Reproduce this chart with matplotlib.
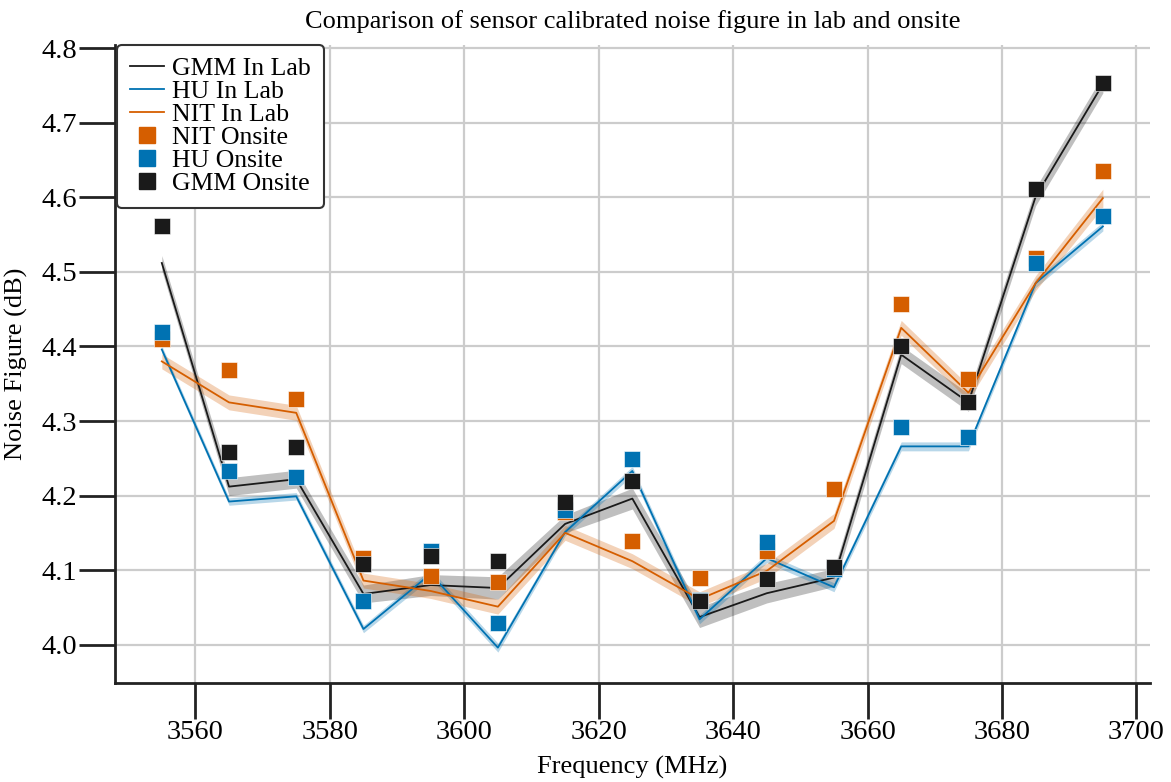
import numpy as np
import matplotlib
matplotlib.use("Agg")
import matplotlib.pyplot as plt
import matplotlib.lines as mlines

plt.rcParams['font.family'] = ['Liberation Serif', 'DejaVu Serif']
plt.rcParams['mathtext.fontset'] = 'stix'

# frequency points (MHz)
freq = [3555, 3565, 3575, 3585, 3595, 3605, 3615, 3625, 3635, 3645, 3655, 3665, 3675, 3685, 3695]

# lab calibration (mean) and spread
gmm_lab = [4.512, 4.212, 4.222, 4.068, 4.080, 4.076, 4.162, 4.196, 4.037, 4.069, 4.090, 4.389, 4.325, 4.601, 4.752]
gmm_lab_sd = [0.010, 0.012, 0.012, 0.012, 0.014, 0.015, 0.012, 0.014, 0.014, 0.013, 0.012, 0.012, 0.012, 0.012, 0.012]
hu_lab = [4.396, 4.192, 4.199, 4.021, 4.095, 3.996, 4.151, 4.233, 4.034, 4.116, 4.077, 4.266, 4.266, 4.485, 4.561]
hu_lab_sd = [0.005, 0.005, 0.005, 0.005, 0.006, 0.006, 0.005, 0.006, 0.006, 0.006, 0.006, 0.006, 0.006, 0.006, 0.006]
nit_lab = [4.380, 4.325, 4.311, 4.086, 4.072, 4.051, 4.150, 4.112, 4.061, 4.099, 4.166, 4.425, 4.338, 4.485, 4.599]
nit_lab_sd = [0.010, 0.010, 0.010, 0.010, 0.010, 0.010, 0.010, 0.010, 0.010, 0.010, 0.010, 0.010, 0.010, 0.010, 0.012]

# onsite measurements
nit_onsite = [4.410, 4.369, 4.330, 4.116, 4.092, 4.084, 4.178, 4.139, 4.090, 4.126, 4.209, 4.457, 4.357, 4.519, 4.635]
hu_onsite = [4.419, 4.233, 4.225, 4.059, 4.126, 4.029, 4.180, 4.249, 4.060, 4.138, 4.102, 4.292, 4.278, 4.512, 4.575]
gmm_onsite = [4.561, 4.258, 4.265, 4.108, 4.119, 4.112, 4.191, 4.220, 4.059, 4.088, 4.104, 4.400, 4.326, 4.611, 4.753]

c_black = '#1a1a1a'
c_blue = '#0072B2'
c_orange = '#D55E00'

fig = plt.figure(figsize=(11.71, 7.82), dpi=100)
ax = fig.add_axes([0.098, 0.127, 0.884, 0.816])

x = np.array(freq)
for mean, sd, col, lw in [(gmm_lab, gmm_lab_sd, c_black, 1.3),
                          (hu_lab, hu_lab_sd, c_blue, 1.3),
                          (nit_lab, nit_lab_sd, c_orange, 1.3)]:
    m = np.array(mean)
    s = np.array(sd)
    ax.fill_between(x, m - s, m + s, color=col, alpha=0.28, linewidth=0, zorder=2)
    ax.plot(x, m, color=col, linewidth=lw, zorder=3)

ms = 11
ax.plot(x, nit_onsite, linestyle='None', marker='s', ms=ms, color=c_orange, mec='white', mew=0.4, zorder=4)
ax.plot(x, hu_onsite, linestyle='None', marker='s', ms=ms, color=c_blue, mec='white', mew=0.4, zorder=5)
ax.plot(x, gmm_onsite, linestyle='None', marker='s', ms=ms, color=c_black, mec='white', mew=0.4, zorder=6)

### Layout:
ax.set_xlim(3548, 3702)
ax.set_ylim(3.949, 4.805)
ax.set_xticks(np.arange(3560, 3701, 20))
ax.set_yticks(np.arange(4.0, 4.81, 0.1))
ax.set_yticklabels([f'{v:.1f}' for v in np.arange(4.0, 4.81, 0.1)])
ax.grid(True, color='#cccccc', linewidth=1.6)
ax.set_axisbelow(True)
for side in ['top', 'right']:
    ax.spines[side].set_visible(False)
for side in ['left', 'bottom']:
    ax.spines[side].set_linewidth(2.0)
    ax.spines[side].set_color('#222222')
ax.tick_params(axis='both', direction='out', length=26, width=2.0, color='#222222',
               labelsize=20.5, pad=1)

ax.set_xlabel('Frequency (MHz)', fontsize=19, labelpad=8)
ax.set_ylabel('Noise Figure (dB)', fontsize=19, labelpad=10)
ax.set_title('Comparison of sensor calibrated noise figure in lab and onsite', fontsize=19, pad=12)

### Handles:
h = [mlines.Line2D([], [], color=c_black, lw=1.3, label='GMM In Lab'),
     mlines.Line2D([], [], color=c_blue, lw=1.3, label='HU In Lab'),
     mlines.Line2D([], [], color=c_orange, lw=1.3, label='NIT In Lab'),
     mlines.Line2D([], [], color=c_orange, marker='s', ms=ms, ls='None', label='NIT Onsite'),
     mlines.Line2D([], [], color=c_blue, marker='s', ms=ms, ls='None', label='HU Onsite'),
     mlines.Line2D([], [], color=c_black, marker='s', ms=ms, ls='None', label='GMM Onsite')]
leg = ax.legend(handles=h, loc='upper left', bbox_to_anchor=(0.002, 1.0), fontsize=18.5,
                handlelength=1.35, handletextpad=0.3, labelspacing=0.0, borderpad=0.5,
                borderaxespad=0.0, fancybox=True, framealpha=1.0)
leg.get_frame().set_edgecolor('#333333')
leg.get_frame().set_linewidth(1.5)

plt.savefig('out.png', dpi=100)
